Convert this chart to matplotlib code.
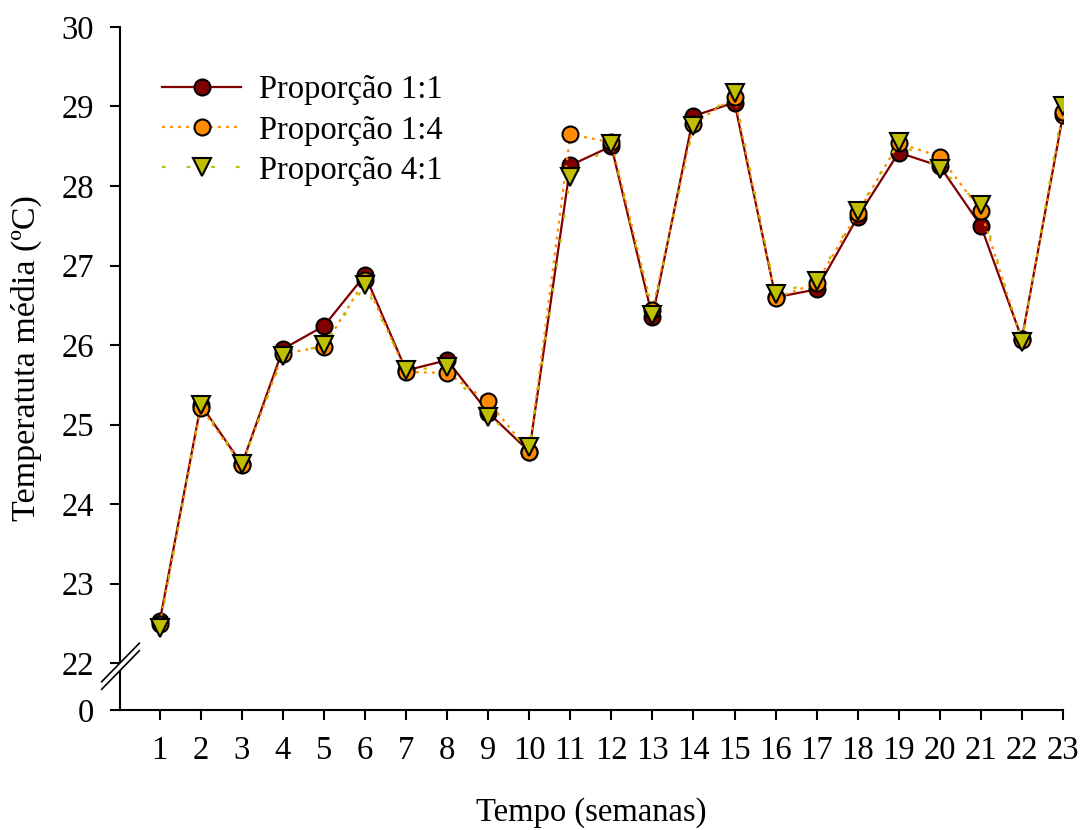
import matplotlib
matplotlib.use("Agg")
import matplotlib.pyplot as plt
from matplotlib.patches import Polygon

plt.rcParams['font.family'] = ['Liberation Serif', 'DejaVu Serif']

# Weekly mean temperature for each mixing proportion
weeks = list(range(1, 24))
prop_1_1 = [22.53, 25.25, 24.50, 25.95, 26.24, 26.88, 25.68, 25.81, 25.15, 24.66,
            28.26, 28.50, 26.35, 28.88, 29.05, 26.60, 26.70, 27.61, 28.42, 28.25,
            27.50, 26.08, 28.89]
prop_1_4 = [22.49, 25.21, 24.49, 25.89, 25.98, 26.82, 25.66, 25.65, 25.29, 24.66,
            28.65, 28.55, 26.44, 28.78, 29.12, 26.59, 26.78, 27.66, 28.54, 28.37,
            27.69, 26.06, 28.93]
prop_4_1 = [22.44, 25.25, 24.50, 25.86, 26.00, 26.75, 25.69, 25.72, 25.10, 24.72,
            28.11, 28.53, 26.38, 28.75, 29.17, 26.64, 26.81, 27.68, 28.55, 28.22,
            27.76, 26.04, 29.01]

series_labels = ['Proporção 1:1', 'Proporção 1:4', 'Proporção 4:1']
y_tick_values = [22, 23, 24, 25, 26, 27, 28, 29, 30]
x_label = 'Tempo (semanas)'
y_label = 'Temperatuta média (ºC)'

# broken axis: the "0" sits just below the 22 tick
y_zero_pos = 21.41

fig = plt.figure(figsize=(10.8, 8.3), dpi=100)
ax = fig.add_axes([0.1111, 0.1446, 0.8731, 0.8229])

fs = 23.5
ax.plot(weeks, prop_1_1, color='#800000', lw=1.6, ls='-', marker='o', ms=11.5,
        mfc='#800000', mec='black', mew=1.5, label=series_labels[0], zorder=3)
ax.plot(weeks, prop_1_4, color='#FF8C00', lw=1.6, ls=(0, (1.3, 2.3)), marker='o', ms=11.5,
        mfc='#FF8C00', mec='black', mew=1.5, label=series_labels[1], zorder=4)
ax.plot(weeks, prop_4_1, color='#BFBF00', lw=1.6, ls=(0, (1.6, 9.5)), marker='v', ms=12.5,
        mfc='#BFBF00', mec='black', mew=1.5, label=series_labels[2], zorder=5)

ax.set_xlim(0.03, 23)
ax.set_ylim(y_zero_pos, 30)
ax.set_xticks(weeks)
ax.set_xticklabels([str(w) for w in weeks])
ax.set_yticks([y_zero_pos] + y_tick_values)
ax.set_yticklabels(['0'] + [str(v) for v in y_tick_values])

for side in ('top', 'right'):
    ax.spines[side].set_visible(False)
for side in ('left', 'bottom'):
    ax.spines[side].set_linewidth(1.5)
    ax.spines[side].set_clip_on(False)

ax.tick_params(axis='both', direction='out', length=7.5, width=1.5,
               labelsize=fs, pad=11)

# axis break marks
slash_up = [(-0.0194, 0.0414), (0.0205, 0.0977)]
slash_lo = [(-0.0194, 0.0303), (0.0205, 0.0868)]
gap = Polygon([slash_up[0], slash_up[1], slash_lo[1], slash_lo[0]], closed=True,
              transform=ax.transAxes, facecolor='white', edgecolor='none',
              clip_on=False, zorder=6)
ax.add_patch(gap)
for seg in (slash_up, slash_lo):
    ax.plot([seg[0][0], seg[1][0]], [seg[0][1], seg[1][1]], transform=ax.transAxes,
            color='black', lw=1.2, clip_on=False, zorder=7)

ax.set_xlabel(x_label, fontsize=fs)
ax.set_ylabel(y_label, fontsize=24.5)
ax.xaxis.set_label_coords(0.5, -0.128)
ax.yaxis.set_label_coords(-0.083, 0.515)

leg = ax.legend(loc='upper left', bbox_to_anchor=(0.045, 0.93), frameon=False,
                fontsize=fs, handlelength=2.4, handletextpad=0.55,
                labelspacing=0.3, borderaxespad=0.0, borderpad=0.0)

fig.savefig('out.png', dpi=100)
